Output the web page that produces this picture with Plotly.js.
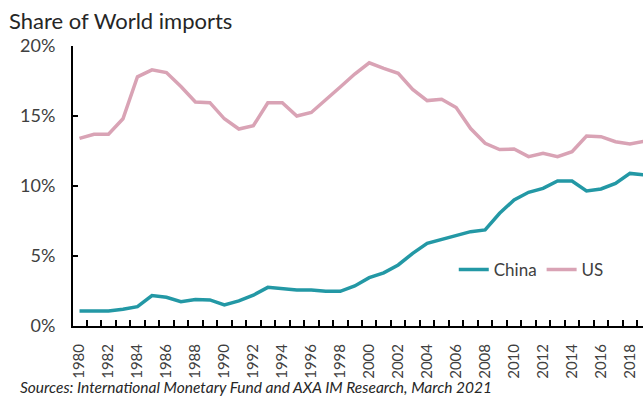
<!DOCTYPE html>
<html>
<head>
<meta charset="utf-8">
<script src="https://cdn.plot.ly/plotly-3.0.1.min.js"></script>
<style>
html,body{margin:0;padding:0;background:#fff;}
#chart{width:643px;height:398px;}
</style>
</head>
<body>
<div id="chart"></div>
<script>
const years = [1980,1981,1982,1983,1984,1985,1986,1987,1988,1989,
               1990,1991,1992,1993,1994,1995,1996,1997,1998,1999,
               2000,2001,2002,2003,2004,2005,2006,2007,2008,2009,
               2010,2011,2012,2013,2014,2015,2016,2017,2018,2019];
const china = [1.07,1.05,1.07,1.2,1.38,2.17,2.05,1.74,1.9,1.86,
               1.5,1.79,2.2,2.76,2.64,2.57,2.57,2.48,2.48,2.86,
               3.45,3.8,4.36,5.19,5.9,6.2,6.5,6.74,6.86,8.05,
               9.0,9.55,9.83,10.36,10.36,9.64,9.79,10.19,10.9,10.8];
const us = [13.4,13.7,13.7,14.8,17.8,18.3,18.1,17.1,16.0,15.95,
            14.8,14.07,14.3,15.95,15.95,15.0,15.25,16.2,17.07,18.0,
            18.8,18.4,18.05,16.9,16.1,16.2,15.6,14.1,13.05,12.6,
            12.64,12.1,12.33,12.1,12.45,13.57,13.52,13.16,13.0,13.2];
const tickYears = [1980,1982,1984,1986,1988,1990,1992,1994,1996,1998,
                   2000,2002,2004,2006,2008,2010,2012,2014,2016,2018];

const FONT = 'Lato, "Open Sans", sans-serif';

const traces = [
  {x: years, y: china, name: 'China', type: 'scatter', mode: 'lines',
   line: {color: '#2398a5', width: 3.5}},
  {x: years, y: us, name: 'US', type: 'scatter', mode: 'lines',
   line: {color: '#d9a3b5', width: 3.5}}
];

const layout = {
  width: 643, height: 398,
  margin: {l: 73, r: 0, t: 46, b: 72, pad: 0},
  paper_bgcolor: '#fff', plot_bgcolor: '#fff',
  font: {family: FONT, color: '#404040', size: 15},
  showlegend: true,
  legend: {orientation: 'h', x: 0.668, xanchor: 'left', y: 0.2, yanchor: 'middle',
           font: {size: 17, color: '#404040'}, bgcolor: 'rgba(0,0,0,0)',
           itemwidth: 30, tracegroupgap: 0},
  xaxis: {
    range: [1979.55, 2018.9], showgrid: false, zeroline: false,
    showline: true, linecolor: '#000', linewidth: 2,
    tickmode: 'array', tickvals: tickYears, ticktext: tickYears.map(String),
    ticks: '', tickangle: -90, tickfont: {size: 15, color: '#404040'},
    ticklabelstandoff: 10,
    minor: {tickmode: 'linear', tick0: 1979.5, dtick: 1, ticks: 'inside',
            ticklen: 6, tickcolor: '#000', tickwidth: 2, showgrid: false}
  },
  yaxis: {
    range: [0, 20], tickmode: 'linear', tick0: 0, dtick: 5, ticksuffix: '%',
    showgrid: false, zeroline: false, showline: true, linecolor: '#000', linewidth: 2,
    ticks: 'inside', ticklen: 5, tickwidth: 2, tickcolor: '#000',
    tickfont: {size: 18, color: '#404040'}, ticklabelstandoff: 12
  },
  annotations: [
    {text: 'Share of World imports', xref: 'paper', yref: 'paper', x: -0.116, y: 1.0,
     xanchor: 'left', yanchor: 'bottom', yshift: 10, showarrow: false,
     font: {size: 22, color: '#262626', family: FONT}},
    {text: '<i>Sources: International Monetary Fund and AXA IM Research, March 2021</i>',
     xref: 'paper', yref: 'paper', x: -0.096, y: 0, xanchor: 'left', yanchor: 'top',
     yshift: -50, showarrow: false, font: {size: 15.5, color: '#262626', family: FONT}}
  ]
};

Plotly.newPlot('chart', traces, layout, {displayModeBar: false, staticPlot: true});
</script>
</body>
</html>
